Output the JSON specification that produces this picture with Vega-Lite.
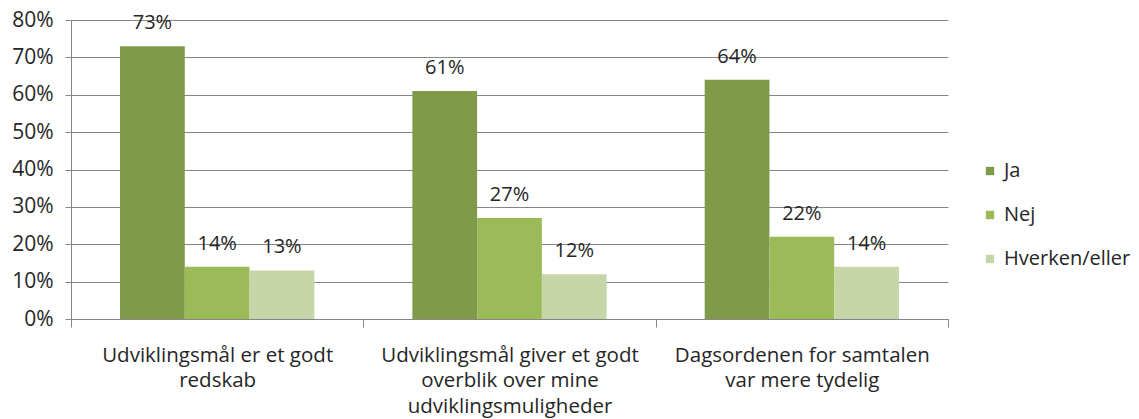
{
  "$schema": "https://vega.github.io/schema/vega-lite/v6.json",
  "autosize": {"type": "none"},
  "width": 877,
  "height": 299,
  "padding": {"left": 71, "top": 20, "right": 191, "bottom": 100},
  "background": "white",
  "config": {
    "view": {"stroke": null},
    "font": "Open Sans",
    "axis": {"labelFont": "Open Sans", "labelColor": "#262626"},
    "legend": {"labelFont": "Open Sans"}
  },
  "data": {
    "values": [
      {"kategori": "Udviklingsmål er et godt redskab", "svar": "Ja", "andel": 0.73},
      {"kategori": "Udviklingsmål er et godt redskab", "svar": "Nej", "andel": 0.14},
      {"kategori": "Udviklingsmål er et godt redskab", "svar": "Hverken/eller", "andel": 0.13},
      {"kategori": "Udviklingsmål giver et godt overblik over mine udviklingsmuligheder", "svar": "Ja", "andel": 0.61},
      {"kategori": "Udviklingsmål giver et godt overblik over mine udviklingsmuligheder", "svar": "Nej", "andel": 0.27},
      {"kategori": "Udviklingsmål giver et godt overblik over mine udviklingsmuligheder", "svar": "Hverken/eller", "andel": 0.12},
      {"kategori": "Dagsordenen for samtalen var mere tydelig", "svar": "Ja", "andel": 0.64},
      {"kategori": "Dagsordenen for samtalen var mere tydelig", "svar": "Nej", "andel": 0.22},
      {"kategori": "Dagsordenen for samtalen var mere tydelig", "svar": "Hverken/eller", "andel": 0.14}
    ]
  },
  "encoding": {
    "x": {
      "field": "kategori",
      "type": "nominal",
      "sort": null,
      "scale": {"paddingInner": 0, "paddingOuter": 0},
      "axis": {
        "title": null,
        "labelAngle": 0,
        "domainColor": "#868686",
        "tickColor": "#868686",
        "tickSize": 8,
        "tickBand": "extent",
        "labelFontSize": 20.5,
        "labelPadding": 18,
        "labelBaseline": "top",
        "labelLineHeight": 25.5,
        "labelLimit": 400,
        "labelExpr": "datum.label == 'Udviklingsmål er et godt redskab' ? ['Udviklingsmål er et godt', 'redskab'] : datum.label == 'Dagsordenen for samtalen var mere tydelig' ? ['Dagsordenen for samtalen', 'var mere tydelig'] : datum.label == 'Udviklingsmål giver et godt overblik over mine udviklingsmuligheder' ? ['Udviklingsmål giver et godt', 'overblik over mine', 'udviklingsmuligheder'] : ''"
      }
    },
    "xOffset": {"field": "svar", "type": "nominal", "sort": ["Ja", "Nej", "Hverken/eller"], "scale": {"paddingInner": 0, "paddingOuter": 0.757}},
    "y": {
      "field": "andel",
      "type": "quantitative",
      "scale": {"domain": [0, 0.8], "nice": false},
      "axis": {
        "title": null,
        "format": ".0%",
        "values": [0, 0.1, 0.2, 0.3, 0.4, 0.5, 0.6, 0.7, 0.8],
        "grid": true,
        "gridColor": "#868686",
        "domainColor": "#868686",
        "tickColor": "#868686",
        "tickSize": 6,
        "labelFontSize": 21,
        "labelPadding": 12,
        "labelOverlap": false
      }
    }
  },
  "layer": [
    {
      "mark": {"type": "bar"},
      "encoding": {
        "color": {
          "field": "svar",
          "type": "nominal",
          "sort": ["Ja", "Nej", "Hverken/eller"],
          "scale": {"domain": ["Ja", "Nej", "Hverken/eller"], "range": ["#7f9a48", "#9bbb59", "#c6d6a9"]},
          "legend": {
            "title": null,
            "orient": "none",
            "legendX": 909,
            "legendY": 141,
            "symbolType": "square",
            "symbolSize": 70,
            "symbolStrokeWidth": 0,
            "labelFontSize": 20,
            "labelColor": "#262626",
            "labelOffset": 4,
            "rowPadding": 24
          }
        }
      }
    },
    {
      "mark": {"type": "text", "baseline": "alphabetic", "dy": -17, "fontSize": 20, "color": "#262626", "font": "Open Sans"},
      "encoding": {
        "text": {"field": "andel", "type": "quantitative", "format": ".0%"}
      }
    }
  ]
}
